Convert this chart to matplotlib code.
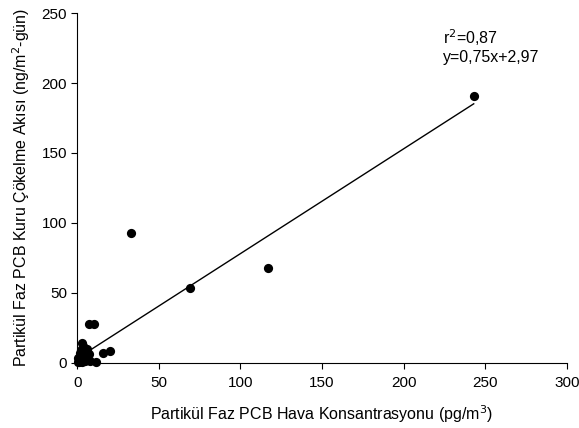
import matplotlib
matplotlib.use("Agg")
import matplotlib.pyplot as plt
import numpy as np

plt.rcParams['font.family'] = ['Liberation Sans', 'DejaVu Sans']

x_vals = [243, 117, 69, 33, 7, 10.5, 16, 20, 11.5, 2.8, 3.2, 2.0,
          0.5, 1.0, 1.5, 2.0, 2.5, 3.0, 4.0, 5.0, 6.0, 7.0, 1.0, 3.0, 5.0, 8.0, 4.0, 6.0, 0.3, 1.8]
y_vals = [191, 68, 53, 93, 27.5, 27.5, 7, 8, 0.3, 14, 12, 9,
          0.5, 2.0, 4.0, 1.0, 6.0, 0.5, 3.0, 5.0, 2.0, 6.0, 0.5, 8.0, 0.8, 1.0, 8.0, 10.0, 3.0, 6.5]
slope = 0.75
intercept = 2.97
x_ticks = [0, 50, 100, 150, 200, 250, 300]
y_ticks = [0, 50, 100, 150, 200, 250]

fig = plt.figure(figsize=(5.79, 4.28), dpi=100)
ax = fig.add_axes([0.1335, 0.153, 0.8453, 0.8159])

ax.scatter(x_vals, y_vals, s=44, color='black', zorder=3, linewidths=0, clip_on=False)
xl = np.array([min(x_vals), max(x_vals)])
ax.plot(xl, slope * xl + intercept, color='black', lw=1)

ax.set_xlim(0, 300)
ax.set_ylim(0, 250)
ax.set_xticks(x_ticks)
ax.set_yticks(y_ticks)
ax.spines['top'].set_visible(False)
ax.spines['right'].set_visible(False)
ax.tick_params(direction='out', length=4, labelsize=11)
ax.tick_params(axis='x', pad=6)

ax.set_xlabel('Partikül Faz PCB Hava Konsantrasyonu (pg/m$^3$)', fontsize=11.5, labelpad=9)
ax.set_ylabel('Partikül Faz PCB Kuru Çökelme Akısı (ng/m$^2$-gün)', fontsize=11.5, labelpad=7)

ax.text(224, 213, 'r$^2$=0,87\ny=0,75x+2,97', fontsize=11.5, va='bottom', ha='left', linespacing=1.2)

fig.savefig('out.png', dpi=100)
